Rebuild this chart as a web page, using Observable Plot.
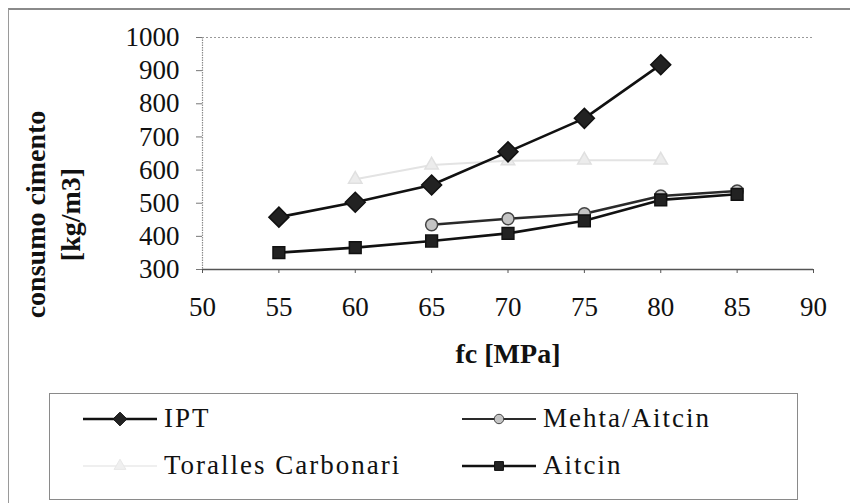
<!DOCTYPE html>
<html>
<head>
<meta charset="utf-8">
<script src="https://cdn.jsdelivr.net/npm/d3@7"></script>
<script src="https://cdn.jsdelivr.net/npm/@observablehq/plot@0.6"></script>
<style>
  html, body { margin: 0; padding: 0; background: #fff; }
  #chart {
    position: relative; width: 850px; height: 503px; overflow: hidden;
    font-family: "Liberation Serif", "Times New Roman", serif;
  }
  #frame {
    position: absolute; left: 8px; top: 8px; width: 850px; height: 520px;
    border-left: 1px solid #9a9a9a; border-top: 2px solid #8a8a8a; box-sizing: border-box;
  }
  #plot { position: absolute; left: 0; top: 0; }
  #legend {
    position: absolute; left: 49px; top: 393px; width: 749px; height: 107px;
    border: 1.5px solid #8a8a8a; box-sizing: border-box;
  }
  .item { position: absolute; display: flex; align-items: center; font-size: 27px; color: #111;
    font-family: "Liberation Serif", "Times New Roman", serif; letter-spacing: 2px; }
  .item svg { margin-right: 7px; }
</style>
</head>
<body>
<div id="chart">
  <div id="frame"></div>
  <div id="plot"></div>
  <div id="legend"></div>
</div>
<script>
// compressive strength (MPa) and cement consumption (kg/m3) per method
const fc = [55, 60, 65, 70, 75, 80, 85];
const ipt = [458, 503, 555, 655, 756, 918, null];
const mehtaAitcin = [null, null, 435, 453, 468, 522, 537];
const torallesCarbonari = [null, 572, 615, 628, 630, 630, null];
const aitcin = [351, 366, 386, 409, 447, 510, 527];

const fcTicks = [50, 55, 60, 65, 70, 75, 80, 85, 90];
const consumoTicks = [300, 400, 500, 600, 700, 800, 900, 1000];

const seriesNames = ["IPT", "Mehta/Aitcin", "Toralles Carbonari", "Aitcin"];
const seriesValues = [ipt, mehtaAitcin, torallesCarbonari, aitcin];

const rows = seriesNames.flatMap((name, i) =>
  fc.map((x, j) => ({series: name, fc: x, consumo: seriesValues[i][j]}))
    .filter(d => d.consumo != null)
);
const of = name => rows.filter(d => d.series === name);

const font = "Liberation Serif";

const plot = Plot.plot({
  width: 850,
  height: 390,
  marginLeft: 202,
  marginRight: 37,
  marginTop: 37,
  marginBottom: 121,
  style: {fontFamily: font, fontSize: "27px", color: "#111", background: "transparent"},
  x: {domain: [50, 90]},
  y: {domain: [300, 1000]},
  marks: [
    // value axis line and top gridline
    Plot.ruleX([50], {stroke: "#8c8c8c", strokeWidth: 1.2, strokeDasharray: "1.5,1"}),
    Plot.ruleY([1000], {stroke: "#9a9a9a", strokeWidth: 1.2, strokeDasharray: "2,2"}),
    Plot.axisY({ticks: consumoTicks, tickFormat: d => String(d), tickSize: 6, tickPadding: 17,
      label: null, stroke: "#777", fontSize: 27, fontFamily: font, letterSpacing: "3.5px"}),
    Plot.axisX({ticks: fcTicks, tickFormat: d => String(d), tickSize: 4, tickPadding: 23,
      label: null, stroke: "#555", fontSize: 27, fontFamily: font, letterSpacing: "3px"}),
    Plot.ruleY([300], {stroke: "#555", strokeWidth: 1.6}),
    // Toralles Carbonari (very light)
    Plot.line(of("Toralles Carbonari"), {x: "fc", y: "consumo", stroke: "#e3e3e3", strokeWidth: 2}),
    Plot.dot(of("Toralles Carbonari"), {x: "fc", y: "consumo", symbol: "triangle", r: 5,
      fill: "#ececec", stroke: "#e0e0e0"}),
    // Mehta/Aitcin
    Plot.line(of("Mehta/Aitcin"), {x: "fc", y: "consumo", stroke: "#2a2a2a", strokeWidth: 2.6}),
    Plot.dot(of("Mehta/Aitcin"), {x: "fc", y: "consumo", symbol: "circle", r: 6,
      fill: "#c4c4c4", stroke: "#444", strokeWidth: 1.5}),
    // Aitcin
    Plot.line(of("Aitcin"), {x: "fc", y: "consumo", stroke: "#111", strokeWidth: 2.6}),
    Plot.dot(of("Aitcin"), {x: "fc", y: "consumo", symbol: "square2", r: 7.5,
      fill: "#222", stroke: "#111"}),
    // IPT
    Plot.line(of("IPT"), {x: "fc", y: "consumo", stroke: "#111", strokeWidth: 2.6}),
    Plot.dot(of("IPT"), {x: "fc", y: "consumo", symbol: "diamond2", r: 9,
      fill: "#222", stroke: "#111"}),
    // axis titles
    Plot.text(["fc [MPa]"], {frameAnchor: "bottom", dy: 93, fontWeight: "bold",
      fontFamily: font, fontSize: 28, letterSpacing: "2px"}),
    Plot.text(["consumo cimento\n[kg/m3]"], {frameAnchor: "left", textAnchor: "middle",
      dx: -151, dy: 61, rotate: -90, fontWeight: "bold", fontFamily: font, fontSize: 28,
      lineHeight: 1.25, letterSpacing: "3.5px"})
  ]
});
document.getElementById("plot").appendChild(plot);

// legend: two columns, two rows
const legendSymbols = {
  "IPT": {symbol: d3.symbolDiamond2, size: 120, fill: "#222", stroke: "#111", line: "#111", lw: 2.4},
  "Mehta/Aitcin": {symbol: d3.symbolCircle, size: 70, fill: "#c4c4c4", stroke: "#444", line: "#2a2a2a", lw: 2},
  "Toralles Carbonari": {symbol: d3.symbolTriangle, size: 60, fill: "#f0f0f0", stroke: "#e8e8e8", line: "#efefef", lw: 2},
  "Aitcin": {symbol: d3.symbolSquare2, size: 100, fill: "#222", stroke: "#111", line: "#111", lw: 2.4}
};
const legendPos = [[33, 9], [412, 9], [33, 56], [412, 56]];
const legend = d3.select("#legend");
seriesNames.forEach((name, i) => {
  const s = legendSymbols[name];
  const item = legend.append("div").attr("class", "item")
    .style("left", legendPos[i][0] + "px").style("top", legendPos[i][1] + "px");
  const svg = item.append("svg").attr("width", 74).attr("height", 30);
  svg.append("line").attr("x1", 0).attr("x2", 74).attr("y1", 15).attr("y2", 15)
    .attr("stroke", s.line).attr("stroke-width", s.lw);
  svg.append("path").attr("transform", "translate(37,15)")
    .attr("d", d3.symbol(s.symbol, s.size)())
    .attr("fill", s.fill).attr("stroke", s.stroke);
  item.append("span").text(name);
});
</script>
</body>
</html>
